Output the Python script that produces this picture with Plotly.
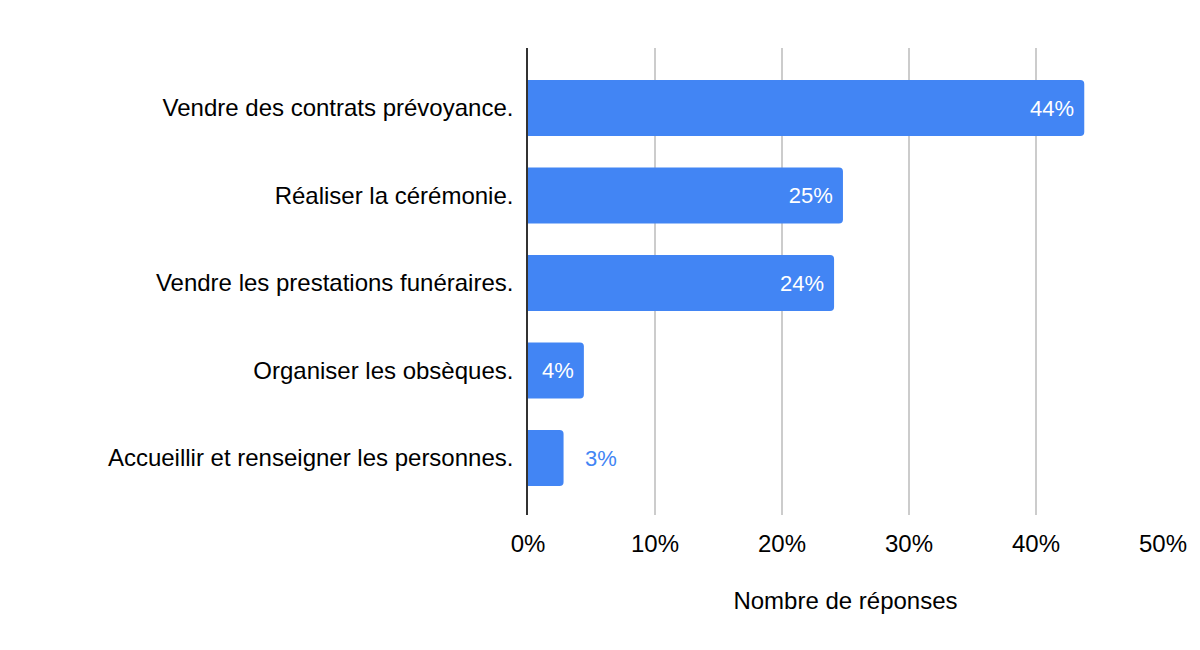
import plotly.graph_objects as go

categories = [
    "Vendre des contrats prévoyance.",
    "Réaliser la cérémonie.",
    "Vendre les prestations funéraires.",
    "Organiser les obsèques.",
    "Accueillir et renseigner les personnes.",
]
values = [43.8, 24.8, 24.1, 4.4, 2.8]
x_ticks = [0, 10, 20, 30, 40, 50]
x_ticktext = ["0%", "10%", "20%", "30%", "40%", "50%"]

BAR = "#4285F4"
FONT = "Liberation Sans, Arial, sans-serif"
FS = 24
LFS = 22

inside = [v >= 4 for v in values]
texts = []
for v, ins in zip(values, inside):
    lbl = f"{round(v)}%"
    texts.append(lbl + "\u00a0" if ins else "\u00a0\u00a0\u00a0" + lbl)
positions = ["inside" if ins else "outside" for ins in inside]
colors = ["white" if ins else BAR for ins in inside]

fig = go.Figure(go.Bar(
    x=values, y=categories, orientation="h",
    marker=dict(color=BAR, line=dict(width=0)),
    width=0.64,
    text=texts, textposition=positions, insidetextanchor="end",
    textfont=dict(family=FONT, size=LFS, color=colors),
    cliponaxis=False,
))

fig.update_layout(
    width=1200, height=650,
    paper_bgcolor="white", plot_bgcolor="white",
    margin=dict(l=520, r=45, t=40, b=143, autoexpand=False),
    barcornerradius=4,
    showlegend=False,
    font=dict(family=FONT, size=FS, color="#000000"),
)
fig.update_xaxes(
    range=[0, 50], tickvals=x_ticks, ticktext=x_ticktext,
    showgrid=True, gridcolor="#cccccc", gridwidth=1.5,
    zeroline=False, showline=False, automargin=False,
    ticklabelstandoff=12,
    tickfont=dict(family=FONT, size=FS, color="#000000"),
    title=dict(text="Nombre de réponses", standoff=36,
               font=dict(family=FONT, size=FS, color="#000000")),
)
fig.update_yaxes(
    autorange=False, range=[4.651, -0.686],
    categoryorder="array", categoryarray=categories,
    showline=True, linecolor="#333333", linewidth=1.5,
    showgrid=False, zeroline=False, automargin=False,
    ticklabelstandoff=8,
    tickfont=dict(family=FONT, size=FS, color="#000000"),
)

fig.write_html("out.html")
